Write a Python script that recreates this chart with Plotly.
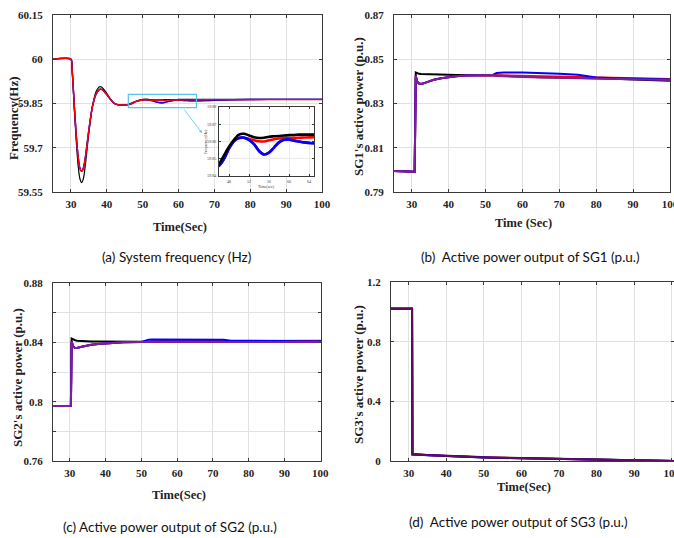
import plotly.graph_objects as go

W, H = 674, 538

# ---------------- data ----------------
# (a) system frequency
T_FREQ = [25, 30, 30.3, 31, 31.5, 32, 32.5, 33, 33.5, 34, 35, 36, 37, 38, 38.5, 39, 40, 41, 42, 43,
          44, 45, 46, 47, 48, 49, 50, 51, 52, 53, 54, 55, 56, 57, 58, 59, 60, 61, 62, 63,
          64, 65, 70, 80, 90, 100]
FREQ_BLACK = [60.0, 60.0, 59.97, 59.82, 59.72, 59.64, 59.595, 59.582, 59.597, 59.64,
              59.75, 59.84, 59.89, 59.907, 59.906, 59.90, 59.884, 59.866, 59.852, 59.846,
              59.845, 59.845, 59.847, 59.852, 59.857, 59.861, 59.864, 59.8645, 59.8635, 59.8625,
              59.862, 59.8622, 59.8628, 59.863, 59.8632, 59.8635, 59.8637, 59.8638, 59.864, 59.864,
              59.864, 59.864, 59.864, 59.864, 59.864, 59.864]
FREQ_RED = [60.0, 60.0, 59.97, 59.83, 59.74, 59.67, 59.63, 59.62, 59.632, 59.665,
            59.76, 59.84, 59.882, 59.898, 59.898, 59.894, 59.88, 59.864, 59.851, 59.846,
            59.845, 59.845, 59.846, 59.850, 59.856, 59.8603, 59.862, 59.8622, 59.8615, 59.8607,
            59.8601, 59.8600, 59.8607, 59.8613, 59.8617, 59.862, 59.862, 59.8621, 59.8622, 59.8623,
            59.8624, 59.8625, 59.863, 59.863, 59.863, 59.863]
FREQ_BLUE = [60.0, 60.0, 59.97, 59.83, 59.74, 59.67, 59.63, 59.62, 59.632, 59.665,
             59.76, 59.84, 59.882, 59.898, 59.898, 59.894, 59.88, 59.864, 59.851, 59.846,
             59.845, 59.845, 59.846, 59.850, 59.856, 59.8603, 59.862, 59.8622, 59.861, 59.8585,
             59.8545, 59.8525, 59.8535, 59.8565, 59.8595, 59.861, 59.8612, 59.8605, 59.860, 59.8595,
             59.8592, 59.859, 59.861, 59.8635, 59.864, 59.864]
FREQ_PURPLE = [60.0, 60.0, 59.97, 59.83, 59.74, 59.67, 59.63, 59.62, 59.632, 59.665,
               59.76, 59.84, 59.882, 59.898, 59.898, 59.894, 59.88, 59.864, 59.851, 59.846,
               59.845, 59.845, 59.846, 59.850, 59.856, 59.8603, 59.862, 59.8622, 59.861, 59.8585,
               59.8545, 59.8525, 59.8535, 59.8565, 59.8595, 59.861, 59.8612, 59.8605, 59.860, 59.8595,
               59.8592, 59.859, 59.861, 59.8635, 59.864, 59.864]

# (b) SG1 active power
T_SG1 = [25, 30, 30.8, 31.1, 31.5, 32, 32.5, 33, 34, 35, 36, 38, 40, 42, 45, 50, 52, 53, 55, 60,
         65, 70, 75, 77, 80, 85, 90, 95, 100]
SG1_BLACK = [0.7995, 0.7992, 0.7992, 0.8440, 0.8436, 0.8434, 0.8433, 0.8433, 0.8432, 0.8432,
             0.8431, 0.8430, 0.8430, 0.8429, 0.8429, 0.8428, 0.8427, 0.8426, 0.8425, 0.8421,
             0.8419, 0.8418, 0.8417, 0.8416, 0.8415, 0.8412, 0.8409, 0.8406, 0.8403]
SG1_RED = [0.7995, 0.7992, 0.7992, 0.8425, 0.8398, 0.8390, 0.8388, 0.8390, 0.8396, 0.8402,
           0.8407, 0.8414, 0.8419, 0.8423, 0.8427, 0.8429, 0.8429, 0.8428, 0.8427, 0.8425,
           0.8423, 0.8421, 0.8420, 0.8419, 0.8418, 0.8416, 0.8414, 0.8412, 0.8411]
SG1_BLUE = [0.7995, 0.7992, 0.7992, 0.8425, 0.8398, 0.8390, 0.8388, 0.8390, 0.8396, 0.8402,
            0.8407, 0.8414, 0.8419, 0.8423, 0.8427, 0.8429, 0.8429, 0.8438, 0.8440, 0.8440,
            0.8438, 0.8435, 0.8430, 0.8425, 0.8417, 0.8414, 0.8412, 0.8410, 0.8408]
SG1_PURPLE = [0.7995, 0.7992, 0.7992, 0.8425, 0.8398, 0.8390, 0.8388, 0.8390, 0.8396, 0.8402,
              0.8407, 0.8414, 0.8419, 0.8423, 0.8427, 0.8429, 0.8429, 0.8424, 0.8422, 0.8420,
              0.8418, 0.8416, 0.8415, 0.8414, 0.8413, 0.8411, 0.8409, 0.8407, 0.8406]

# (c) SG2 active power
T_SG2 = [25, 30.3, 30.5, 31, 31.5, 32, 33, 34, 35, 36, 38, 40, 42, 45, 50, 52, 53, 55, 60, 65,
         70, 73, 75, 80, 85, 90, 95, 100.3]
SG2_BLACK = [0.797, 0.797, 0.8425, 0.8418, 0.8414, 0.8411, 0.8409, 0.8408, 0.8407, 0.8406,
             0.8405, 0.8404, 0.8404, 0.8404, 0.8404, 0.8404, 0.8404, 0.8404, 0.8404, 0.8404,
             0.8404, 0.8404, 0.8404, 0.8403, 0.8403, 0.8403, 0.8402, 0.8402]
SG2_RED = [0.797, 0.797, 0.8405, 0.8370, 0.8362, 0.8362, 0.8368, 0.8374, 0.8379, 0.8383,
           0.8389, 0.8393, 0.8397, 0.8400, 0.8403, 0.8405, 0.8406, 0.8407, 0.8408, 0.8409,
           0.8409, 0.8410, 0.8410, 0.8410, 0.8410, 0.8410, 0.8410, 0.8410]
SG2_BLUE = [0.797, 0.797, 0.8405, 0.8370, 0.8362, 0.8362, 0.8368, 0.8374, 0.8379, 0.8383,
            0.8389, 0.8393, 0.8397, 0.8400, 0.8403, 0.8418, 0.8419, 0.8419, 0.8419, 0.8419,
            0.8419, 0.8418, 0.8411, 0.8409, 0.8409, 0.8408, 0.8408, 0.8408]
SG2_PURPLE = [0.797, 0.797, 0.8405, 0.8370, 0.8362, 0.8362, 0.8368, 0.8374, 0.8379, 0.8383,
              0.8389, 0.8393, 0.8397, 0.8400, 0.8403, 0.8401, 0.8401, 0.8402, 0.8402, 0.8403,
              0.8403, 0.8403, 0.8403, 0.8403, 0.8403, 0.8403, 0.8403, 0.8403]

# (d) SG3 active power
T_SG3 = [25, 30.9, 31.0, 32, 35, 40, 45, 50, 55, 60, 65, 70, 75, 80, 85, 90, 95, 100, 101]
SG3_BLACK = [1.022, 1.022, 0.047, 0.045, 0.040, 0.034, 0.028, 0.024, 0.022, 0.020, 0.018,
             0.016, 0.014, 0.012, 0.009, 0.006, 0.003, 0.001, 0.0]
SG3_RED = [1.020, 1.020, 0.044, 0.043, 0.038, 0.033, 0.027, 0.023, 0.021, 0.019, 0.017,
           0.015, 0.013, 0.011, 0.008, 0.005, 0.002, 0.0005, 0.0]
SG3_BLUE = [1.020, 1.020, 0.043, 0.042, 0.037, 0.032, 0.026, 0.022, 0.020, 0.018, 0.016,
            0.014, 0.012, 0.010, 0.007, 0.004, 0.002, 0.0005, 0.0]
SG3_PURPLE = [1.021, 1.021, 0.045, 0.043, 0.038, 0.033, 0.027, 0.023, 0.021, 0.019, 0.017,
              0.015, 0.013, 0.011, 0.008, 0.005, 0.002, 0.0005, 0.0]

# tick labels
X_TICKS = [30, 40, 50, 60, 70, 80, 90, 100]
FREQ_TICKS = [59.55, 59.7, 59.85, 60, 60.15]
FREQ_LABELS = ["59.55", "59.7", "59.85", "60", "60.15"]
SG1_TICKS = [0.79, 0.81, 0.83, 0.85, 0.87]
SG1_LABELS = ["0.79", "0.81", "0.83", "0.85", "0.87"]
SG2_TICKS = [0.76, 0.78, 0.80, 0.82, 0.84, 0.86, 0.88]
SG2_LABELS = ["0.76", "", "0.8", "", "0.84", "", "0.88"]
SG3_TICKS = [0, 0.4, 0.8, 1.2]
SG3_LABELS = ["0", "0.4", "0.8", "1.2"]
INSET_XTICKS = [48, 52, 56, 60, 64]
INSET_YTICKS = [59.84, 59.85, 59.86, 59.87, 59.88]
INSET_YLABELS = ["59.84", "59.85", "59.86", "59.87", "59.88"]

# ---------------- figure ----------------
BLACK, RED, BLUE, PURPLE = "#000000", "#FF0000", "#0000FF", "#7E1E9C"


def px(x):
    return x / W


def py(y):
    return 1 - y / H


fig = go.Figure()


def add(xs, ys, color, xa, ya, width, shape="linear"):
    fig.add_trace(go.Scatter(x=xs, y=ys, mode="lines",
                             line=dict(color=color, width=width, shape=shape, smoothing=0.8) if shape == "spline"
                             else dict(color=color, width=width),
                             xaxis=xa, yaxis=ya, showlegend=False, hoverinfo="skip"))


# (a) main
add(T_FREQ, FREQ_BLACK, BLACK, "x", "y", 1.2, "spline")
add(T_FREQ, FREQ_PURPLE, PURPLE, "x", "y", 1.4, "spline")
add(T_FREQ, FREQ_BLUE, BLUE, "x", "y", 1.4, "spline")
add(T_FREQ, FREQ_RED, RED, "x", "y", 1.4, "spline")
# (a) inset
add(T_FREQ, FREQ_RED, RED, "x5", "y5", 2.6, "spline")
add(T_FREQ, FREQ_PURPLE, PURPLE, "x5", "y5", 2.6, "spline")
add(T_FREQ, FREQ_BLUE, BLUE, "x5", "y5", 2.6, "spline")
add(T_FREQ, FREQ_BLACK, BLACK, "x5", "y5", 2.6, "spline")
# (b)
add(T_SG1, SG1_BLACK, BLACK, "x2", "y2", 2)
add(T_SG1, SG1_RED, RED, "x2", "y2", 2)
add(T_SG1, SG1_BLUE, BLUE, "x2", "y2", 2)
add(T_SG1, SG1_PURPLE, PURPLE, "x2", "y2", 2)
# (c)
add(T_SG2, SG2_BLACK, BLACK, "x3", "y3", 2)
add(T_SG2, SG2_RED, RED, "x3", "y3", 2)
add(T_SG2, SG2_BLUE, BLUE, "x3", "y3", 2)
add(T_SG2, SG2_PURPLE, PURPLE, "x3", "y3", 2)
# (d)
add(T_SG3, SG3_BLACK, BLACK, "x4", "y4", 2)
add(T_SG3, SG3_RED, RED, "x4", "y4", 2)
add(T_SG3, SG3_BLUE, BLUE, "x4", "y4", 2)
add(T_SG3, SG3_PURPLE, "#5A0F5E", "x4", "y4", 2)

TICKFONT = dict(family="Liberation Serif", size=11, color="#222222", weight="bold")


def ax(domain, rng, tickvals, ticktext, anchor, standoff, font=TICKFONT, grid="#E1E1E1"):
    return dict(domain=domain, range=rng, tickvals=tickvals, ticktext=ticktext, anchor=anchor,
                showgrid=True, gridcolor=grid, gridwidth=1, showline=True, linecolor="#3A3A3A",
                linewidth=1, mirror="ticks", ticks="inside", ticklen=3, tickcolor="#3A3A3A",
                tickfont=font, zeroline=False, ticklabelstandoff=standoff, fixedrange=True,
                automargin=False, ticklabeloverflow="allow")


XLAB = [str(v) for v in X_TICKS]
INSET_FONT = dict(family="Liberation Serif", size=4, color="#333333")

fig.update_layout(
    width=W, height=H, autosize=False,
    margin=dict(l=0, r=0, t=0, b=0, pad=0),
    paper_bgcolor="white", plot_bgcolor="white",
    xaxis=ax([px(53), px(322)], [25, 100], X_TICKS, XLAB, "y", 2),
    yaxis=ax([py(192), py(15)], [59.55, 60.15], FREQ_TICKS, FREQ_LABELS, "x", 7),
    xaxis2=ax([px(394), px(670)], [25.2, 100], X_TICKS, XLAB, "y2", 2),
    yaxis2=ax([py(192), py(15)], [0.79, 0.87], SG1_TICKS, SG1_LABELS, "x2", 7),
    xaxis3=ax([px(53), px(321)], [25.3, 100.2], X_TICKS, XLAB, "y3", 2),
    yaxis3=ax([py(461), py(283)], [0.76, 0.88], SG2_TICKS, SG2_LABELS, "x3", 7),
    xaxis4=ax([px(391), 1.0], [25.3, 100.6], X_TICKS, XLAB, "y4", 2),
    yaxis4=ax([py(461), py(282)], [0, 1.2], SG3_TICKS, SG3_LABELS, "x4", 7),
    xaxis5=ax([px(219), px(314)], [46, 65], INSET_XTICKS, [str(v) for v in INSET_XTICKS], "y5", 1,
              INSET_FONT, "#EBEBEB"),
    yaxis5=ax([py(176), py(107)], [59.84, 59.88], INSET_YTICKS, INSET_YLABELS, "x5", 1,
              INSET_FONT, "#EBEBEB"),
)
fig.update_layout(xaxis5=dict(ticklen=2), yaxis5=dict(ticklen=2))

# zoom rectangle and arrow
fig.add_shape(type="rect", xref="x", yref="y", x0=46, x1=65, y0=59.836, y1=59.881,
              line=dict(color="#55C4EE", width=1.2), fillcolor="rgba(0,0,0,0)")

ann = []
ann.append(dict(x=px(202), y=py(133), xref="paper", yref="paper", text="", showarrow=True,
                ax=-19, ay=-25, arrowhead=2, arrowsize=0.7, arrowwidth=0.8, arrowcolor="#55C4EE"))

TITLEFONT = dict(family="Liberation Serif", size=12.5, color="#222222", weight="bold")
YTITLEFONT = dict(family="Liberation Serif", size=13, color="#222222", weight="bold")
CAPFONT = dict(family="Lato", size=13.5, color="#111111")


def text(x, y, s, font, angle=0):
    ann.append(dict(x=px(x), y=py(y), xref="paper", yref="paper", text=s, showarrow=False,
                    xanchor="center", yanchor="middle", font=font, textangle=angle))


text(180, 227, "Time(Sec)", TITLEFONT)
text(523, 223, "Time (Sec)", TITLEFONT)
text(179, 495, "Time(Sec)", TITLEFONT)
text(524, 487, "Time(Sec)", TITLEFONT)
text(13, 118, "Frequency(Hz)", YTITLEFONT, -90)
text(358, 107, "SG1's active power (p.u.)", YTITLEFONT, -90)
text(17, 378, "SG2's active power (p.u.)", YTITLEFONT, -90)
text(358, 375, "SG3's active power (p.u.)", YTITLEFONT, -90)
text(205, 142, "Frequency(Hz)", dict(family="Liberation Serif", size=4, color="#333333"), -90)
text(266, 186, "Time(sec)", dict(family="Liberation Serif", size=4, color="#333333"))

text(176, 257, "(a) System frequency (Hz)", CAPFONT)
text(530, 257, "(b)\u00a0 Active power output of SG1 (p.u.)", CAPFONT)
text(170, 527, "(c) Active power output of SG2 (p.u.)", CAPFONT)
text(518, 522, "(d)\u00a0 Active power output of SG3 (p.u.)", CAPFONT)

fig.update_layout(annotations=ann)

fig.write_html(
    "out.html",
    config={"displayModeBar": False, "staticPlot": True},
    post_script="document.body.style.margin='0';document.body.style.overflow='hidden';",
)
